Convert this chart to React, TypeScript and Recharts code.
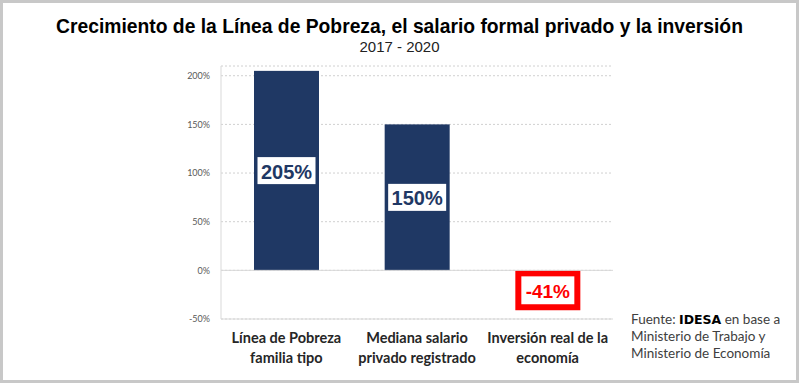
import React from 'react';
import { BarChart, Bar, XAxis, YAxis, CartesianGrid, ReferenceLine, LabelList, Cell } from 'recharts';

// --- data ---
const categories = ['Línea de Pobreza familia tipo', 'Mediana salario privado registrado', 'Inversión real de la economía'];
const categoryLines = [
  ['Línea de Pobreza', 'familia tipo'],
  ['Mediana salario', 'privado registrado'],
  ['Inversión real de la', 'economía'],
];
const growth = [205, 150, -41];
const yTicks = [-50, 0, 50, 100, 150, 200];

const data = categories.map((name, i) => ({ name, value: growth[i], lines: categoryLines[i] }));

const NAVY = '#1f3864';
const RED = '#ff0000';
const FRAME = '#d9d9d9';

// bar shape: navy for positives, white box with red frame for negatives
const BarShape = (props: any) => {
  const { x, y, width, height, value } = props;
  const top = Math.min(y, y + height);
  const h = Math.abs(height);
  if (value < 0) {
    const t = 6;
    return (
      <rect
        x={x + t / 2}
        y={top + t / 2}
        width={width - t}
        height={h - t}
        fill="#fff"
        stroke={RED}
        strokeWidth={t}
      />
    );
  }
  return <rect x={x} y={top} width={width} height={h} fill={NAVY} />;
};

const ValueLabel = (props: any) => {
  const { x, y, width, height, value } = props;
  const top = Math.min(y, y + height);
  const h = Math.abs(height);
  const cx = x + width / 2;
  const cy = top + h / 2;
  const neg = value < 0;
  return (
    <g>
      {!neg && <rect x={cx - 29} y={cy - 13.5} width={58} height={27} fill="#fff" />}
      <text
        x={cx}
        y={cy + 1}
        textAnchor="middle"
        dominantBaseline="central"
        fontFamily="'Liberation Sans', Arial, sans-serif"
        fontWeight="bold"
        fontSize={neg ? 19 : 20}
        fill={neg ? RED : NAVY}
      >
        {`${value}%`}
      </text>
    </g>
  );
};

const CategoryTick = (props: any) => {
  const { x, y, index } = props;
  const lines = categoryLines[index] || [];
  return (
    <g>
      {lines.map((line: string, i: number) => (
        <text
          key={i}
          x={x}
          y={y + 16 + i * 20}
          textAnchor="middle"
          fontFamily="Lato, sans-serif"
          fontWeight="bold"
          fontSize={14.5}
          fill="#262626"
        >
          {line}
        </text>
      ))}
    </g>
  );
};

export default function App() {
  return (
    <div
      style={{
        position: 'absolute',
        left: 0,
        top: 0,
        width: 799,
        height: 383,
        boxSizing: 'border-box',
        border: '3px solid #c8c8c8',
        background: '#fff',
        overflow: 'hidden',
      }}
    >
      <div
        style={{
          position: 'absolute',
          left: 0,
          right: 0,
          top: 12,
          textAlign: 'center',
          fontFamily: "'Liberation Sans', Arial, sans-serif",
          color: '#000',
        }}
      >
        <div style={{ fontSize: 19.3, fontWeight: 'bold', lineHeight: '23px' }}>
          Crecimiento de la Línea de Pobreza, el salario formal privado y la inversión
        </div>
        <div style={{ fontSize: 15, lineHeight: '18px', color: '#222' }}>2017 - 2020</div>
      </div>

      <div style={{ position: 'absolute', left: -3, top: -3 }}>
        <BarChart
          width={799}
          height={383}
          data={data}
          margin={{ top: 66, right: 186, bottom: 4, left: 0 }}
          barSize={65}
        >
          <CartesianGrid vertical={false} stroke="#d0d0d0" strokeDasharray="2 2" />
          <ReferenceLine y={0} stroke={FRAME} />
          <XAxis
            dataKey="name"
            height={60}
            axisLine={{ stroke: FRAME }}
            tickLine={false}
            interval={0}
            tick={<CategoryTick />}
          />
          <XAxis xAxisId="top" dataKey="name" orientation="top" height={0} axisLine={{ stroke: FRAME }} tickLine={false} tick={false} />
          <YAxis
            width={221}
            domain={[-50, 210]}
            ticks={yTicks}
            allowDataOverflow
            axisLine={{ stroke: FRAME }}
            tickLine={false}
            tickSize={0}
            tickMargin={11}
            tickFormatter={(v: number) => `${v}%`}
            tick={{ fontSize: 9, fill: '#595959', fontFamily: 'Lato, sans-serif' }}
          />
          <YAxis yAxisId="right" orientation="right" width={0} domain={[-50, 210]} axisLine={{ stroke: FRAME }} tickLine={false} tick={false} />
          <Bar dataKey="value" isAnimationActive={false} shape={<BarShape />}>
            {data.map((d, i) => (
              <Cell key={`cell-${i}`} fill={d.value < 0 ? '#fff' : NAVY} />
            ))}
            <LabelList dataKey="value" content={<ValueLabel />} />
          </Bar>
        </BarChart>
      </div>

      <div
        style={{
          position: 'absolute',
          left: 628,
          top: 308,
          fontFamily: 'Lato, sans-serif',
          fontSize: 13.5,
          lineHeight: '17px',
          color: '#404040',
        }}
      >
        <div>
          Fuente:{' '}
          <span style={{ fontFamily: "'DejaVu Sans', sans-serif", fontWeight: 'bold', color: '#000', fontSize: 12.5 }}>
            IDESA
          </span>{' '}
          en base a
        </div>
        <div>Ministerio de Trabajo y</div>
        <div>Ministerio de Economía</div>
      </div>
    </div>
  );
}
